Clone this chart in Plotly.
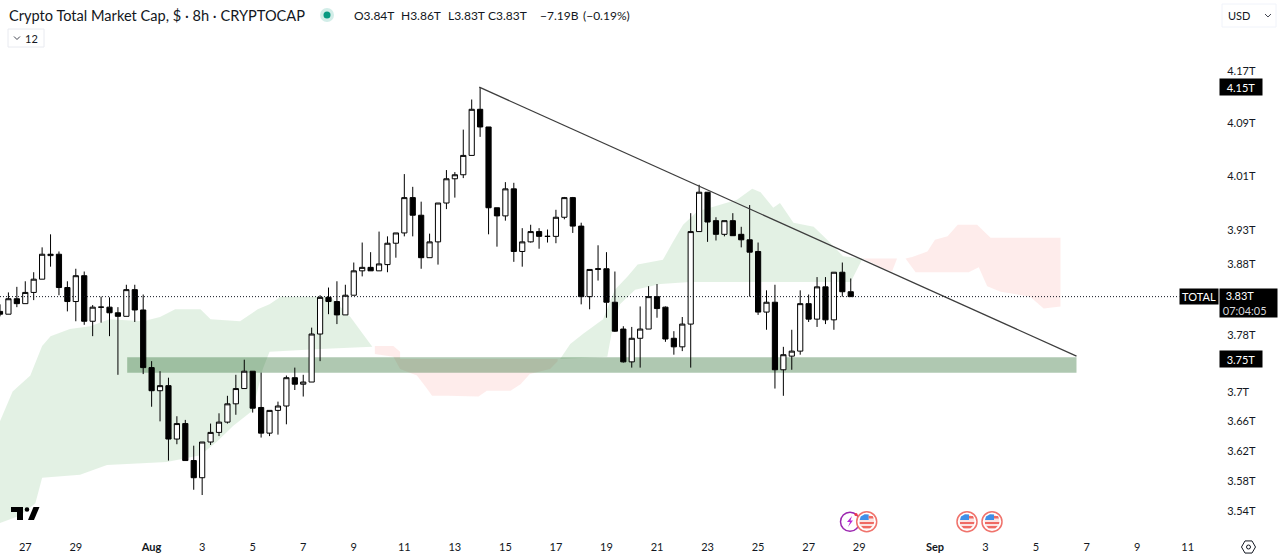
import numpy as np
import pandas as pd
import plotly.graph_objects as go

# 8h bars, bar 0 is the first one on the left edge
first_bar = pd.Timestamp("2025-07-26 00:00")

opens = [3.813, 3.809, 3.831, 3.824, 3.840, 3.859, 3.893, 3.895, 3.847, 3.827, 3.864, 3.799, 3.819, 3.819, 3.811, 3.806, 3.844,
         3.815, 3.734, 3.702, 3.709, 3.636, 3.657, 3.607, 3.584, 3.632, 3.645, 3.659, 3.684, 3.705, 3.729, 3.679, 3.644, 3.675,
         3.681, 3.720, 3.711, 3.714, 3.781, 3.833, 3.827, 3.808, 3.836, 3.871, 3.876, 3.871, 3.880, 3.911, 3.926, 3.978, 3.952,
         3.890, 3.913, 3.970, 4.006, 4.012, 4.041, 4.111, 4.084, 3.963, 3.951, 3.991, 3.899, 3.913, 3.928, 3.921, 3.921, 3.949,
         3.978, 3.936, 3.834, 3.873, 3.874, 3.826, 3.788, 3.742, 3.775, 3.788, 3.834, 3.819, 3.775, 3.763, 3.795, 3.928, 3.986,
         3.944, 3.924, 3.944, 3.924, 3.916, 3.899, 3.812, 3.826, 3.731, 3.750, 3.757, 3.824, 3.802, 3.848, 3.801, 3.869, 3.841]
highs = [3.823, 3.840, 3.848, 3.856, 3.869, 3.905, 3.924, 3.899, 3.856, 3.874, 3.870, 3.822, 3.834, 3.833, 3.819, 3.851, 3.851,
         3.837, 3.743, 3.729, 3.720, 3.667, 3.662, 3.627, 3.632, 3.657, 3.671, 3.695, 3.724, 3.745, 3.729, 3.727, 3.675, 3.687,
         3.723, 3.734, 3.724, 3.790, 3.836, 3.847, 3.856, 3.851, 3.883, 3.912, 3.898, 3.928, 3.921, 3.926, 4.013, 3.994, 3.972,
         3.925, 3.970, 4.019, 4.016, 4.080, 4.126, 4.145, 4.084, 3.963, 4.001, 4.000, 3.933, 3.938, 3.933, 3.931, 3.960, 3.979,
         3.979, 3.941, 3.873, 3.908, 3.898, 3.870, 3.792, 3.791, 3.820, 3.849, 3.852, 3.820, 3.785, 3.805, 3.955, 3.997, 3.986,
         3.949, 3.944, 3.955, 3.935, 3.967, 3.912, 3.843, 3.851, 3.763, 3.787, 3.843, 3.837, 3.862, 3.862, 3.869, 3.883, 3.860]
lows = [3.806, 3.809, 3.819, 3.824, 3.829, 3.859, 3.877, 3.836, 3.813, 3.799, 3.794, 3.778, 3.797, 3.778, 3.724, 3.806, 3.798,
        3.725, 3.680, 3.660, 3.607, 3.629, 3.607, 3.568, 3.561, 3.628, 3.640, 3.657, 3.669, 3.705, 3.672, 3.638, 3.640, 3.642,
        3.656, 3.703, 3.694, 3.714, 3.743, 3.809, 3.795, 3.808, 3.836, 3.863, 3.871, 3.871, 3.869, 3.890, 3.921, 3.921, 3.874,
        3.890, 3.880, 3.961, 3.978, 4.007, 4.041, 4.069, 3.924, 3.906, 3.944, 3.884, 3.877, 3.912, 3.903, 3.912, 3.911, 3.946,
        3.926, 3.823, 3.816, 3.857, 3.804, 3.784, 3.741, 3.734, 3.734, 3.788, 3.804, 3.770, 3.752, 3.757, 3.734, 3.928, 3.913,
        3.915, 3.921, 3.922, 3.905, 3.834, 3.808, 3.787, 3.705, 3.695, 3.731, 3.752, 3.798, 3.791, 3.795, 3.787, 3.834, 3.834]
closes = [3.809, 3.831, 3.824, 3.840, 3.859, 3.895, 3.895, 3.847, 3.827, 3.864, 3.799, 3.819, 3.819, 3.811, 3.806, 3.844, 3.815,
          3.734, 3.702, 3.709, 3.636, 3.657, 3.607, 3.584, 3.632, 3.645, 3.659, 3.684, 3.705, 3.729, 3.678, 3.644, 3.675, 3.681,
          3.720, 3.711, 3.714, 3.781, 3.833, 3.827, 3.808, 3.836, 3.871, 3.876, 3.871, 3.881, 3.911, 3.926, 3.978, 3.952, 3.890,
          3.913, 3.970, 4.006, 4.012, 4.041, 4.111, 4.084, 3.963, 3.951, 3.991, 3.899, 3.913, 3.928, 3.921, 3.921, 3.949, 3.978,
          3.936, 3.834, 3.873, 3.874, 3.826, 3.785, 3.742, 3.775, 3.788, 3.834, 3.817, 3.774, 3.763, 3.795, 3.928, 3.986, 3.942,
          3.924, 3.944, 3.922, 3.916, 3.898, 3.812, 3.826, 3.731, 3.752, 3.757, 3.824, 3.802, 3.848, 3.801, 3.869, 3.841, 3.834]

# ichimoku cloud outlines, bar number and price
green_a_top_bar = [0, 1.5, 3.6, 5, 6, 8.3, 10.7, 13, 17, 19, 20.8, 23.8, 25, 28.5, 30.6, 32, 33.3, 39.2, 41.6, 44.2]
green_a_top = [3.660, 3.701, 3.723, 3.764, 3.778, 3.788, 3.792, 3.802, 3.799, 3.805, 3.816, 3.816, 3.802, 3.799, 3.816, 3.823, 3.834, 3.834, 3.805, 3.763]
green_a_low_bar = [0, 2.4, 4.2, 5, 9.5, 12.7, 19.8, 23.8, 25.8, 27.7, 30, 31.2, 32, 38, 44.2]
green_a_low = [3.524, 3.534, 3.550, 3.584, 3.588, 3.601, 3.605, 3.614, 3.633, 3.654, 3.675, 3.732, 3.756, 3.760, 3.763]

red_a_top_bar = [44.5, 46.7, 47.5, 47.5, 66.2]
red_a_top = [3.764, 3.764, 3.756, 3.746, 3.746]
red_a_low_bar = [44.5, 46.7, 47.5, 49.5, 50.5, 51.3, 53.2, 56.8, 57.8, 60.6, 61.8, 62.9, 65.3, 66.2]
red_a_low = [3.753, 3.749, 3.732, 3.723, 3.708, 3.695, 3.695, 3.694, 3.702, 3.702, 3.711, 3.725, 3.732, 3.743]

green_b_top_bar = [66.5, 67.7, 69.2, 71.6, 73, 74.5, 75.7, 78.7, 79.9, 81.1, 82.8, 84.3, 87.5, 89.3, 90.3, 91.8, 92.6, 94.2, 96.6, 98.2, 100.1, 102.4]
green_b_top = [3.746, 3.767, 3.781, 3.802, 3.844, 3.863, 3.880, 3.887, 3.913, 3.938, 3.958, 3.963, 3.975, 3.991, 3.986, 3.963, 3.970, 3.941, 3.935, 3.916, 3.892, 3.889]
green_b_low_bar = [66.5, 72.1, 72.7, 73.6, 75.4, 78.4, 81.9, 101, 102.4]
green_b_low = [3.746, 3.749, 3.788, 3.823, 3.844, 3.852, 3.855, 3.855, 3.889]

red_b_top_bar = [102.4, 106.5]
red_b_top = [3.889, 3.889]
red_b_low_bar = [102.4, 103.3, 104.5, 105.9, 106.5]
red_b_low = [3.889, 3.884, 3.876, 3.870, 3.889]

red_c_top_bar = [107.5, 108.3, 110.1, 111, 112.5, 113.7, 116, 117.6, 125.9]
red_c_top = [3.889, 3.891, 3.899, 3.916, 3.921, 3.938, 3.938, 3.919, 3.919]
red_c_low_bar = [107.5, 108.7, 115, 116.2, 117.2, 118.8, 122.3, 123.9, 125.9]
red_c_low = [3.889, 3.869, 3.869, 3.876, 3.849, 3.841, 3.834, 3.817, 3.820]

# drawings on the chart
band_bars = [15.1, 127.8]
band_prices = [3.727, 3.7485]
trend_bars = [56.9, 127.8]
trend_prices = [4.145, 3.750]
last_price = 3.834

# axes
y_ticks = [4.17, 4.09, 4.01, 3.93, 3.88, 3.78, 3.70, 3.66, 3.62, 3.58, 3.54]
y_labels = ["4.17T", "4.09T", "4.01T", "3.93T", "3.88T", "3.78T", "3.7T", "3.66T", "3.62T", "3.58T", "3.54T"]
x_ticks = ["2025-07-27", "2025-07-29", "2025-08-01", "2025-08-03", "2025-08-05", "2025-08-07", "2025-08-09", "2025-08-11",
           "2025-08-13", "2025-08-15", "2025-08-17", "2025-08-19", "2025-08-21", "2025-08-23", "2025-08-25", "2025-08-27",
           "2025-08-29", "2025-09-01", "2025-09-03", "2025-09-05", "2025-09-07", "2025-09-09", "2025-09-11"]
x_labels = ["27", "29", "<b>Aug</b>", "3", "5", "7", "9", "11", "13", "15", "17", "19", "21", "23", "25", "27", "29",
            "<b>Sep</b>", "3", "5", "7", "9", "11"]
legend_texts = ["O3.84T", "H3.86T", "L3.83T", "C3.83T", "−7.19B", "(−0.19%)"]
legend_left = [352, 399, 446, 486, 538, 581]

WIDTH, HEIGHT = 1280, 559
PLOT_W, PLOT_H = 1218, 533
FONT = "Lato"
TEXT = "#131722"
GREEN = "rgba(67,160,71,0.15)"
RED = "rgba(244,67,54,0.10)"


def bar_time(bars):
    return [first_bar + pd.Timedelta(hours=8 * b) for b in bars]


def px(x):
    return x / PLOT_W


def py(y):
    return 1 - y / PLOT_H


def outline(top_bar, top, low_bar, low):
    return bar_time(top_bar + low_bar[::-1]), top + low[::-1]


def poly(points, **style):
    path = "M " + " L ".join(f"{px(x):.5f} {py(y):.5f}" for x, y in points) + " Z"
    return dict(type="path", path=path, xref="paper", yref="paper", **style)


def circle(cx, cy, r, **style):
    return dict(type="circle", xref="paper", yref="paper", x0=px(cx - r), x1=px(cx + r),
                y0=py(cy + r), y1=py(cy - r), **style)


def label(x, y, text, size=11, color=TEXT, anchor="left", **kw):
    return dict(xref="paper", yref="paper", x=px(x), y=py(y), text=text, showarrow=False, xanchor=anchor,
                yanchor="middle", font=dict(family=FONT, size=size, color=color), **kw)


def tag(x, y, w, h, text, align="center"):
    return label(x, y, text, size=11, color="white", anchor="left", bgcolor="#000000", width=w, height=h,
                 borderpad=0, align=align, valign="middle")


fig = go.Figure()

# clouds sit on the bottom axes so the candles stay on top of them
for top_bar, top, low_bar, low, color in [
    (green_a_top_bar, green_a_top, green_a_low_bar, green_a_low, GREEN),
    (red_a_top_bar, red_a_top, red_a_low_bar, red_a_low, RED),
    (green_b_top_bar, green_b_top, green_b_low_bar, green_b_low, GREEN),
    (red_b_top_bar, red_b_top, red_b_low_bar, red_b_low, RED),
    (red_c_top_bar, red_c_top, red_c_low_bar, red_c_low, RED),
]:
    xs, ys = outline(top_bar, top, low_bar, low)
    fig.add_trace(go.Scatter(x=xs, y=ys, fill="toself", fillcolor=color, mode="lines", line=dict(width=0),
                             hoverinfo="skip", showlegend=False))

xs, ys = outline(band_bars, [band_prices[1]] * 2, band_bars, [band_prices[0]] * 2)
fig.add_trace(go.Scatter(x=xs, y=ys, fill="toself", fillcolor="rgba(56,118,60,0.4)", mode="lines", line=dict(width=0),
                         hoverinfo="skip", showlegend=False))

times = bar_time(range(len(opens)))
fig.add_trace(go.Candlestick(x=times, open=opens, high=highs, low=lows, close=closes, xaxis="x2", yaxis="y2",
                             whiskerwidth=0, showlegend=False,
                             increasing=dict(fillcolor="#ffffff", line=dict(color="#000000", width=1)),
                             decreasing=dict(fillcolor="#000000", line=dict(color="#000000", width=1))))

fig.add_trace(go.Scatter(x=bar_time(trend_bars), y=trend_prices, mode="lines", xaxis="x2", yaxis="y2",
                         line=dict(color="#3d3d3d", width=1.3), hoverinfo="skip", showlegend=False))
fig.add_trace(go.Scatter(x=bar_time([0, 140]), y=[last_price, last_price], mode="lines", xaxis="x2", yaxis="y2",
                         line=dict(color="#131722", width=1, dash="1px 2px"), hoverinfo="skip", showlegend=False))

shapes = []
annotations = [
    label(7, 15, "Crypto Total Market Cap, $ · 8h · CRYPTOCAP", size=14.6),
    label(31, 38, "12", size=11, anchor="center"),
    label(1226, 15.5, "USD", size=11),
    tag(1219, 87.5, 42, 16, "4.15T"),
    tag(1179, 296.5, 38, 15, "TOTAL"),
    tag(1219, 303, 57, 28, "&nbsp;&nbsp;3.83T<br><span style='color:#d5d6da'>&nbsp;07:04:05</span>", align="left"),
    tag(1219, 359, 42, 16, "3.75T"),
]
for left, text in zip(legend_left, legend_texts):
    annotations.append(label(left, 15, text, size=12))

# status dot
shapes.append(circle(327, 15, 7, fillcolor="rgba(8,153,129,0.18)", line_width=0))
shapes.append(circle(327, 15, 3.5, fillcolor="#089981", line_width=0))


# small buttons
def box(x0, y0, x1, y1, color):
    return dict(type="rect", xref="paper", yref="paper", x0=px(x0), x1=px(x1), y0=py(y1), y1=py(y0),
                line=dict(color=color, width=1), fillcolor="rgba(0,0,0,0)")


def chevron(cx, cy):
    pts = [(cx - 3, cy - 1.5), (cx, cy + 1.5), (cx + 3, cy - 1.5)]
    path = "M " + " L ".join(f"{px(x):.5f} {py(y):.5f}" for x, y in pts)
    return dict(type="path", path=path, xref="paper", yref="paper", line=dict(color="#434651", width=1))


shapes += [box(8, 29, 44, 47, "#e8eaf0"), box(1222, 4, 1276, 27, "#f0f3fa"), chevron(17, 38), chevron(1268, 15.5)]

# tradingview logo
shapes.append(poly([(11, 507), (23, 507), (23, 520), (17, 520), (17, 512), (11, 512)], fillcolor="#000000", line_width=0))
shapes.append(circle(27, 509.5, 2.3, fillcolor="#000000", line_width=0))
shapes.append(poly([(28, 520), (34, 520), (39.5, 507), (33.5, 507)], fillcolor="#000000", line_width=0))

# settings button
cx, cy = 1248.5, 547
shapes.append(poly([(cx + 7 * np.cos(a), cy + 7 * np.sin(a)) for a in np.radians(range(0, 360, 60))],
                   fillcolor="rgba(0,0,0,0)", line=dict(color="#131722", width=1)))
shapes.append(circle(cx, cy, 2, fillcolor="rgba(0,0,0,0)", line=dict(color="#131722", width=1)))

# economic event icons
shapes.append(circle(850, 521.7, 9.5, fillcolor="white", line=dict(color="#9c27b0", width=1.5)))
shapes.append(poly([(852, 516), (847, 522), (850, 522), (848, 527), (853, 520.5), (850.5, 520.5)],
                   fillcolor="#b72bd6", line_width=0))
for fx in [866.7, 967, 992]:
    shapes.append(circle(fx, 521.7, 10, fillcolor="white", line=dict(color="#f0736c", width=1.5)))
    shapes.append(circle(fx, 521.7, 7.5, fillcolor="#fbe4e2", line_width=0))
    shapes.append(poly([(fx - 7, 520), (fx - 6, 516.5), (fx - 2, 514.3), (fx + 2, 514.5), (fx + 2, 520)],
                       fillcolor="#3f8fe8", line_width=0))
    shapes.append(poly([(fx + 2, 516), (fx + 6, 516), (fx + 7, 518.5), (fx + 2, 518.5)], fillcolor="#ef6a63", line_width=0))
    shapes.append(poly([(fx - 7, 522), (fx + 7.4, 522), (fx + 7, 524), (fx - 7, 524)], fillcolor="#ef6a63", line_width=0))
    shapes.append(poly([(fx - 5.5, 526), (fx + 5.5, 526), (fx + 3.5, 528.3), (fx - 3.5, 528.3)], fillcolor="#ef6a63", line_width=0))
shapes.append(circle(856, 514.5, 1.6, fillcolor="#f23645", line_width=0))

x_range = ["2025-07-26 00:00", "2025-09-12 04:48"]
y_range = [0.54543, 0.63162]
tick_font = dict(family=FONT, size=11, color=TEXT)

fig.update_layout(
    width=WIDTH,
    height=HEIGHT,
    margin=dict(l=0, r=WIDTH - PLOT_W, t=0, b=HEIGHT - PLOT_H, pad=0),
    paper_bgcolor="white",
    plot_bgcolor="white",
    showlegend=False,
    boxgap=0.12,
    shapes=shapes,
    annotations=annotations,
    xaxis=dict(type="date", range=x_range, tickvals=x_ticks, ticktext=x_labels, tickfont=tick_font, showgrid=False,
               zeroline=False, showline=False, ticks="outside", ticklen=4, tickcolor="white", rangeslider=dict(visible=False)),
    yaxis=dict(type="log", range=y_range, tickvals=y_ticks, ticktext=y_labels, tickfont=tick_font, side="right",
               showgrid=False, zeroline=False, showline=False, ticks="outside", ticklen=6, tickcolor="white"),
    xaxis2=dict(type="date", range=x_range, overlaying="x", anchor="y2", visible=False, rangeslider=dict(visible=False)),
    yaxis2=dict(type="log", range=y_range, overlaying="y", anchor="x2", side="right", visible=False),
)

fig.write_html("out.html", post_script="document.body.style.margin='0';", config=dict(displayModeBar=False))
